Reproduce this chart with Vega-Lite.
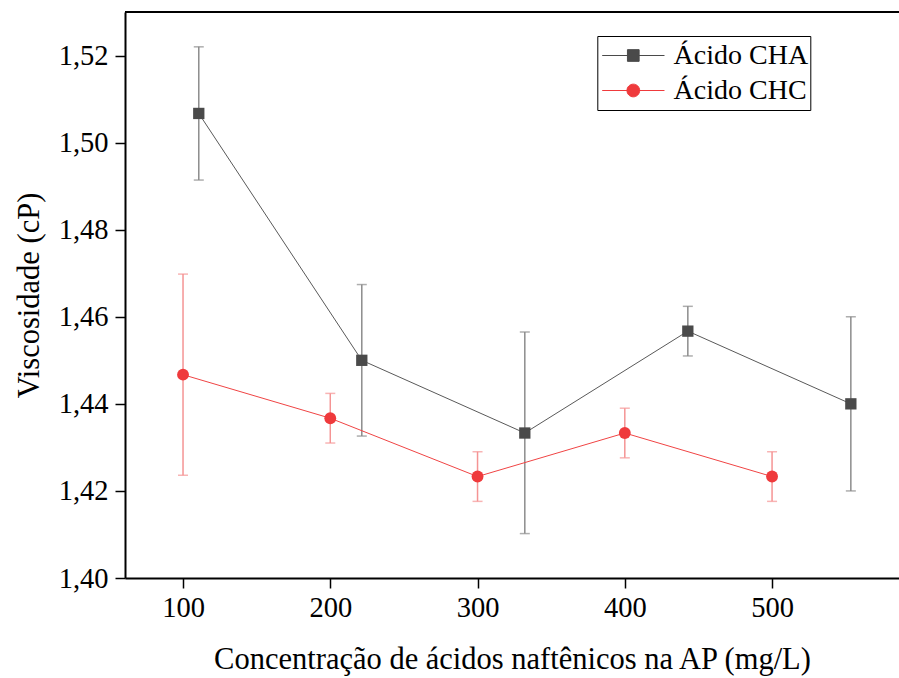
{
  "$schema": "https://vega.github.io/schema/vega-lite/v6.json",
  "width": 774,
  "height": 566,
  "autosize": {"type": "none"},
  "padding": {"left": 125, "top": 12, "right": 0, "bottom": 100},
  "background": "white",
  "config": {
    "view": {"stroke": null},
    "font": "Liberation Serif",
    "style": {
      "guide-label": {"font": "Liberation Serif"},
      "guide-title": {"font": "Liberation Serif"}
    },
    "axis": {
      "grid": false,
      "domainColor": "black",
      "domainWidth": 2,
      "tickColor": "black",
      "tickWidth": 1.5,
      "tickSize": 10,
      "labelColor": "black",
      "labelFont": "Liberation Serif",
      "labelFontSize": 28.5,
      "titleColor": "black",
      "titleFont": "Liberation Serif",
      "titleFontSize": 30.5,
      "titleFontWeight": "normal"
    }
  },
  "data": {
    "values": [
      {"serie": "Ácido CHA", "conc": 110.7, "visc": 1.5067, "lo": 1.4914, "hi": 1.522},
      {"serie": "Ácido CHA", "conc": 221.4, "visc": 1.45, "lo": 1.4326, "hi": 1.4674},
      {"serie": "Ácido CHA", "conc": 332.1, "visc": 1.4333, "lo": 1.4102, "hi": 1.4565},
      {"serie": "Ácido CHA", "conc": 442.8, "visc": 1.4567, "lo": 1.451, "hi": 1.4624},
      {"serie": "Ácido CHA", "conc": 553.5, "visc": 1.44, "lo": 1.42, "hi": 1.46},
      {"serie": "Ácido CHC", "conc": 100, "visc": 1.4467, "lo": 1.4236, "hi": 1.4698},
      {"serie": "Ácido CHC", "conc": 200, "visc": 1.4367, "lo": 1.431, "hi": 1.4424},
      {"serie": "Ácido CHC", "conc": 300, "visc": 1.4233, "lo": 1.4176, "hi": 1.429},
      {"serie": "Ácido CHC", "conc": 400, "visc": 1.4333, "lo": 1.4276, "hi": 1.439},
      {"serie": "Ácido CHC", "conc": 500, "visc": 1.4233, "lo": 1.4176, "hi": 1.429}
    ]
  },
  "encoding": {
    "x": {
      "field": "conc",
      "type": "quantitative",
      "scale": {"domain": [60.6, 586.2], "nice": false, "zero": false},
      "axis": {
        "values": [100, 200, 300, 400, 500],
        "labelFont": "Liberation Serif",
        "titleFont": "Liberation Serif",
        "labelPadding": 5,
        "title": "Concentração de ácidos naftênicos na AP (mg/L)",
        "titlePadding": 23
      }
    }
  },
  "layer": [
    {
      "mark": {"type": "rule", "color": "black", "strokeWidth": 2},
      "encoding": {"y": {"datum": 1.53, "type": "quantitative", "scale": {"domain": [1.4, 1.53], "nice": false, "zero": false}}, "x": null}
    },
    {
      "transform": [{"filter": "datum.serie === 'Ácido CHA'"}],
      "layer": [
        {"mark": {"type": "rule", "color": "#8c8c8c", "strokeWidth": 1.5}, "encoding": {"y": {"field": "lo", "type": "quantitative"}, "y2": {"field": "hi"}}},
        {"mark": {"type": "tick", "orient": "horizontal", "color": "#8c8c8c", "size": 10, "thickness": 1.5}, "encoding": {"y": {"field": "lo", "type": "quantitative"}}},
        {"mark": {"type": "tick", "orient": "horizontal", "color": "#8c8c8c", "size": 10, "thickness": 1.5}, "encoding": {"y": {"field": "hi", "type": "quantitative"}}},
        {"mark": {"type": "line", "color": "#595959", "strokeWidth": 1}, "encoding": {"y": {"field": "visc", "type": "quantitative"}}},
        {"mark": {"type": "point", "shape": "square", "filled": true, "color": "#4a4a4a", "opacity": 1, "size": 128}, "encoding": {"y": {"field": "visc", "type": "quantitative"}}}
      ]
    },
    {
      "transform": [{"filter": "datum.serie === 'Ácido CHC'"}],
      "layer": [
        {"mark": {"type": "rule", "color": "#f59494", "strokeWidth": 1.5}, "encoding": {"y": {"field": "lo", "type": "quantitative"}, "y2": {"field": "hi"}}},
        {"mark": {"type": "tick", "orient": "horizontal", "color": "#f59494", "size": 10, "thickness": 1.5}, "encoding": {"y": {"field": "lo", "type": "quantitative"}}},
        {"mark": {"type": "tick", "orient": "horizontal", "color": "#f59494", "size": 10, "thickness": 1.5}, "encoding": {"y": {"field": "hi", "type": "quantitative"}}},
        {"mark": {"type": "line", "color": "#f04444", "strokeWidth": 1}, "encoding": {"y": {"field": "visc", "type": "quantitative"}}},
        {"mark": {"type": "point", "shape": "circle", "filled": true, "color": "#ef3a3c", "opacity": 1, "size": 141}, "encoding": {"y": {"field": "visc", "type": "quantitative"}}}
      ]
    },
    {
      "mark": {"type": "point", "filled": true, "opacity": 0},
      "encoding": {
        "y": {
          "field": "visc",
          "type": "quantitative",
          "axis": {
            "values": [1.4, 1.42, 1.44, 1.46, 1.48, 1.5, 1.52],
            "labelExpr": "replace(format(datum.value, '.2f'), '.', ',')",
            "labelFont": "Liberation Serif",
            "titleFont": "Liberation Serif",
            "labelPadding": 7,
            "title": "Viscosidade (cP)",
            "titlePadding": 14
          }
        },
        "color": {
          "field": "serie",
          "type": "nominal",
          "scale": {"domain": ["Ácido CHA", "Ácido CHC"], "range": ["#4a4a4a", "#ef3a3c"]},
          "legend": {
            "title": null,
            "orient": "none",
            "legendX": 472.3,
            "legendY": 24,
            "padding": 2,
            "rowPadding": 0,
            "clipHeight": 35,
            "strokeColor": "black",
            "fillColor": "white",
            "symbolSize": 1225,
            "symbolOpacity": 1,
            "symbolStrokeWidth": 1,
            "labelOffset": 38.3,
            "labelFont": "Liberation Serif",
            "labelFontSize": 28,
            "labelColor": "black",
            "labelLimit": 400,
            "encode": {"symbols": {"update": {"stroke": {"scale": "color", "field": "value"}, "strokeWidth": {"value": 1}}}}
          }
        },
        "shape": {
          "field": "serie",
          "type": "nominal",
          "scale": {
            "domain": ["Ácido CHA", "Ácido CHC"],
            "range": [
              "M-0.863,0H2.697M0.58,-0.334H1.248V0.334H0.58Z",
              "M-0.863,0H2.697M0.551,0A0.363,0.363,0,1,1,1.277,0A0.363,0.363,0,1,1,0.551,0Z"
            ]
          },
          "legend": {
            "title": null,
            "orient": "none",
            "legendX": 472.3,
            "legendY": 24,
            "padding": 2,
            "rowPadding": 0,
            "clipHeight": 35,
            "strokeColor": "black",
            "fillColor": "white",
            "symbolSize": 1225,
            "symbolOpacity": 1,
            "symbolStrokeWidth": 1,
            "labelOffset": 38.3,
            "labelFont": "Liberation Serif",
            "labelFontSize": 28,
            "labelColor": "black",
            "labelLimit": 400,
            "encode": {"symbols": {"update": {"stroke": {"scale": "color", "field": "value"}, "strokeWidth": {"value": 1}}}}
          }
        }
      }
    }
  ]
}
